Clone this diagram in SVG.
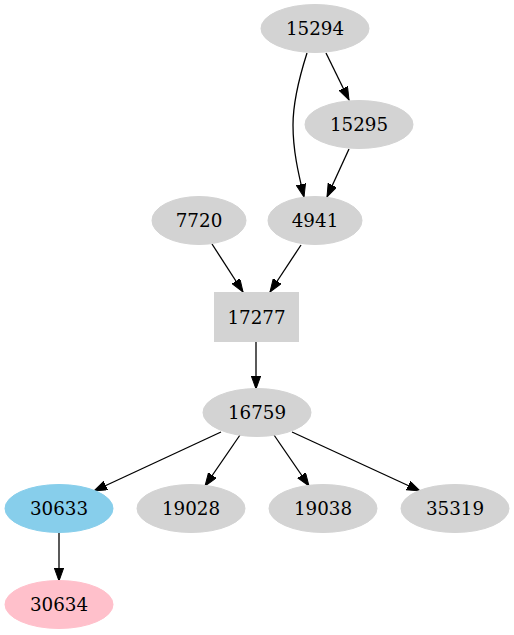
<svg xmlns="http://www.w3.org/2000/svg" width="514" height="635" viewBox="0 0 514 635">
<style>
.n{fill:#d3d3d3;stroke:#d3d3d3;}
.t{font-family:"DejaVu Serif","Liberation Serif",serif;font-size:18.3px;fill:#000;text-anchor:middle;}
.e{fill:none;stroke:#000;stroke-width:1.3;marker-end:url(#ah);}
</style>
<defs>
<marker id="ah" markerUnits="userSpaceOnUse" markerWidth="14" markerHeight="10" refX="13" refY="4.67" orient="auto">
<path d="M0,0 L13,4.67 L0,9.33 z" fill="#000" stroke="#000" stroke-width="1"/>
</marker>
</defs>
<rect width="514" height="635" fill="#fff"/>
<g id="edges">
<path class="e" d="M307,53 C300,75 293,100 293,125 C293,150 298,172 304,197"/>
<path class="e" d="M326,53 L349,100"/>
<path class="e" d="M349,149 L327,197"/>
<path class="e" d="M212,244 L243,292"/>
<path class="e" d="M301,245 L270,292"/>
<path class="e" d="M256,342 L256,389"/>
<path class="e" d="M221,432 L94,491"/>
<path class="e" d="M240,435 L205,486"/>
<path class="e" d="M274,435 L309,486"/>
<path class="e" d="M292,432 L420,491"/>
<path class="e" d="M59,533 L59,581"/>
</g>
<g id="n15294"><ellipse class="n" cx="315" cy="28.5" rx="54" ry="24"/><text class="t" x="315" y="35">15294</text></g>
<g id="n15295"><ellipse class="n" cx="359" cy="124.5" rx="54" ry="24"/><text class="t" x="359" y="131">15295</text></g>
<g id="n7720"><ellipse class="n" cx="199" cy="220.5" rx="47" ry="24"/><text class="t" x="199" y="227">7720</text></g>
<g id="n4941"><ellipse class="n" cx="315" cy="220.5" rx="47" ry="24"/><text class="t" x="315" y="227">4941</text></g>
<g id="n17277"><rect class="n" x="214.5" y="292.5" width="84" height="49"/><text class="t" x="256.5" y="323.5">17277</text></g>
<g id="n16759"><ellipse class="n" cx="257" cy="412.5" rx="54" ry="24"/><text class="t" x="257" y="419">16759</text></g>
<g id="n30633"><ellipse cx="59" cy="508.5" rx="54" ry="24" fill="#87ceeb" stroke="#87ceeb"/><text class="t" x="59" y="515">30633</text></g>
<g id="n19028"><ellipse class="n" cx="191" cy="508.5" rx="54" ry="24"/><text class="t" x="191" y="515">19028</text></g>
<g id="n19038"><ellipse class="n" cx="323" cy="508.5" rx="54" ry="24"/><text class="t" x="323" y="515">19038</text></g>
<g id="n35319"><ellipse class="n" cx="455" cy="508.5" rx="54" ry="24"/><text class="t" x="455" y="515">35319</text></g>
<g id="n30634"><ellipse cx="59" cy="604.5" rx="54" ry="24" fill="#ffc0cb" stroke="#ffc0cb"/><text class="t" x="59" y="611">30634</text></g>
</svg>
